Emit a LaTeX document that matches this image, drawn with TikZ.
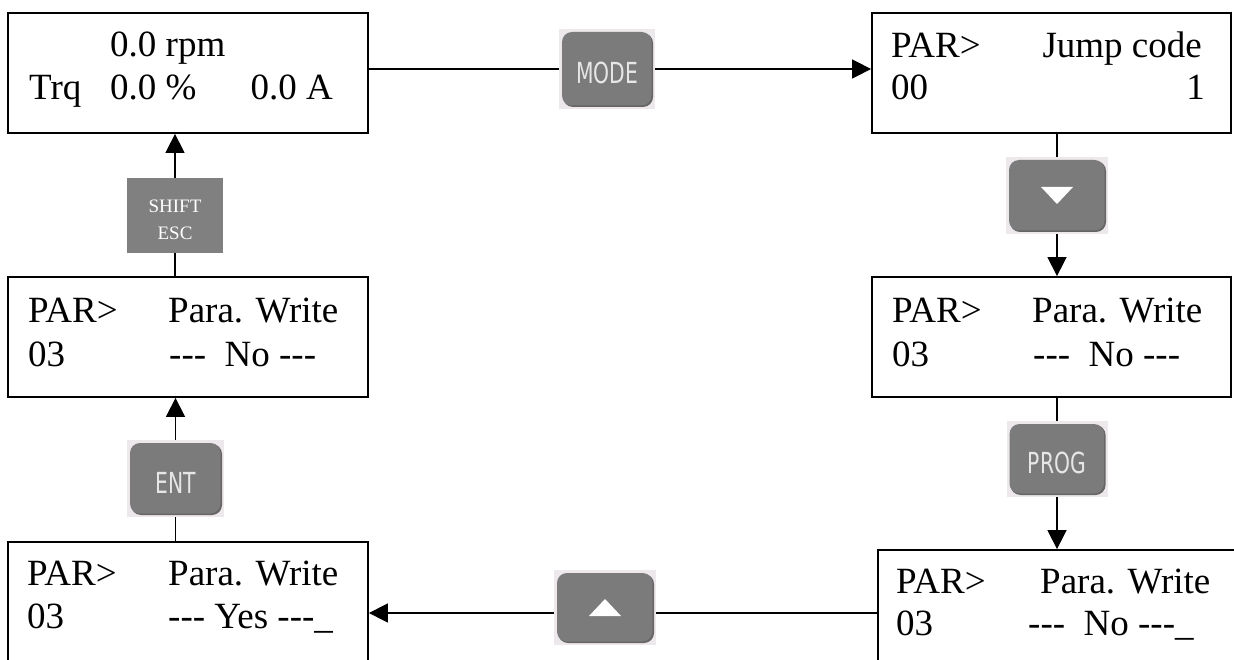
\documentclass[tikz,border=0pt]{standalone}
\usepackage{graphicx}
\usepackage{fontspec}
\setmainfont{Liberation Serif}
\newfontfamily\keyfont{DejaVu Sans}
\usetikzlibrary{arrows.meta}
\definecolor{keybody}{HTML}{7B7B7B}
\definecolor{keyshade}{HTML}{656565}
\definecolor{keyback}{HTML}{ECE8EC}
\definecolor{keytext}{HTML}{E6E6E6}
\definecolor{plainkey}{HTML}{808080}
\tikzset{
  lcd/.style={draw, line width=1.8pt, inner sep=0pt, minimum width=360pt, minimum height=120pt},
  wire/.style={line width=1.5pt},
  arr/.style={line width=1.5pt, -{Triangle[length=19pt,width=19pt]}},
  txt/.style={anchor=base west, inner sep=0pt, font=\fontsize{37}{44}\selectfont},
  txtr/.style={txt, anchor=base east},
  key/.style={fill=keyback, inner sep=0pt, text=keytext,
    font=\keyfont\fontsize{29}{32}\selectfont,
    path picture={
      \fill[keyshade, rounded corners=10pt]
        ([shift={(4pt,-4pt)}]path picture bounding box.north west) rectangle
        ([shift={(-2pt,2pt)}]path picture bounding box.south east);
      \fill[keybody, rounded corners=10pt]
        ([shift={(3pt,-3pt)}]path picture bounding box.north west) rectangle
        ([shift={(-3.5pt,3.5pt)}]path picture bounding box.south east);
    }},
  plainkey/.style={fill=plainkey, inner sep=0pt, text=white, align=center,
    minimum width=96pt, minimum height=75pt, font=\fontsize{19}{27}\selectfont},
}
% labels drawn slightly below the key centre, keeping their reported size
\newcommand{\keylabel}[1]{\raisebox{-4pt}[\height][\depth]{\scalebox{0.7}[1]{#1}}}
\newcommand{\dsh}{-{}-{}-}
\begin{document}
\begin{tikzpicture}[x=1pt, y=-1pt]
\useasboundingbox (0,0) rectangle (1234,660);
\clip (0,0) rectangle (1234,660);

% display boxes
\node[lcd] (A) at (188,73) {};
\node[lcd, minimum width=359pt] (B) at (1051.5,73) {};
\node[lcd] (C) at (188,337) {};
\node[lcd, minimum width=359pt] (F) at (1051.5,337) {};
\node[lcd, minimum height=124pt] (D) at (188,604) {};
\node[lcd, minimum height=124pt] (E) at (1058,612) {};

% display texts
\node[txt] (a1) at (110,57) {0.0 rpm};
\node[txt] (a2) at (29,100) {Trq};
\node[txt] (a3) at (110,100) {0.0 \%};
\node[txtr] (a4) at (333,100) {0.0 A};

\node[txt] (b1) at (891,58) {PAR>};
\node[txtr] (b2) at (1202,58) {Jump code};
\node[txt] (b3) at (891,100) {00};
\node[txtr] (b4) at (1205,100) {1};

\node[txt] (c1) at (28,323) {PAR>};
\node[txt] (c2) at (168,323) {Para. Write};
\node[txt] (c3) at (28,366) {03};
\node[txt] (c4) at (169,366) {\dsh\ \ No \dsh};

\node[txt] (f1) at (892,323) {PAR>};
\node[txt] (f2) at (1032,323) {Para. Write};
\node[txt] (f3) at (892,366) {03};
\node[txt] (f4) at (1033,366) {\dsh\ \ No \dsh};

\node[txt] (d1) at (27,585) {PAR>};
\node[txt] (d2) at (168,585) {Para. Write};
\node[txt] (d3) at (27,628) {03};
\node[txt] (d4) at (168,628) {\dsh\ Yes \dsh\_};

\node[txt] (e1) at (896,593) {PAR>};
\node[txt] (e2) at (1040,593) {Para. Write};
\node[txt] (e3) at (896,635) {03};
\node[txt] (e4) at (1028,635) {\dsh\ \ No \dsh\_};

% keys
\node[key, minimum width=96pt, minimum height=80pt] (mode) at (607,69) {\keylabel{MODE}};
\node[key, minimum width=102pt, minimum height=77pt] (dn) at (1057,195.5) {};
\node[key, minimum width=101pt, minimum height=76pt] (prog) at (1057,459) {\keylabel{PROG}};
\node[key, minimum width=102pt, minimum height=75pt] (up) at (605,607.5) {};
\node[key, minimum width=97pt, minimum height=77pt] (ent) at (175.5,478.5) {\keylabel{ENT}};
\node[plainkey] (esc) at (175,215.5)
  {\raisebox{-4pt}[\height][\depth]{\parbox{90pt}{\centering SHIFT\\ESC}}};

% arrow glyphs on the cursor keys
\fill[white] ([shift={(-16pt,8.5pt)}]dn.center) -- ([shift={(16pt,8.5pt)}]dn.center)
  -- ([shift={(0pt,-8.5pt)}]dn.center) -- cycle;
\fill[white] ([shift={(-16pt,-8.5pt)}]up.center) -- ([shift={(16pt,-8.5pt)}]up.center)
  -- ([shift={(0pt,8.5pt)}]up.center) -- cycle;

% connectors
\coordinate (lvl) at (0,613);
\draw[wire] (mode -| A.east) -- (mode.west);
\draw[arr] (mode.east) -- (mode -| B.west);
\draw[wire] (dn |- B.south) -- (dn.north);
\draw[arr] (dn.south) -- (dn |- F.north);
\draw[wire] (prog |- F.south) -- (prog.north);
\draw[arr] (prog.south) -- (prog |- E.north);
\draw[wire] (lvl -| E.west) -- (lvl -| up.east);
\draw[arr] (lvl -| up.west) -- (lvl -| D.east);
\draw[wire] (ent |- D.north) -- (ent.south);
\draw[arr] (ent.north) -- (ent |- C.south);
\draw[wire] (esc |- C.north) -- (esc.south);
\draw[arr] (esc.north) -- (esc |- A.south);
\end{tikzpicture}
\end{document}
